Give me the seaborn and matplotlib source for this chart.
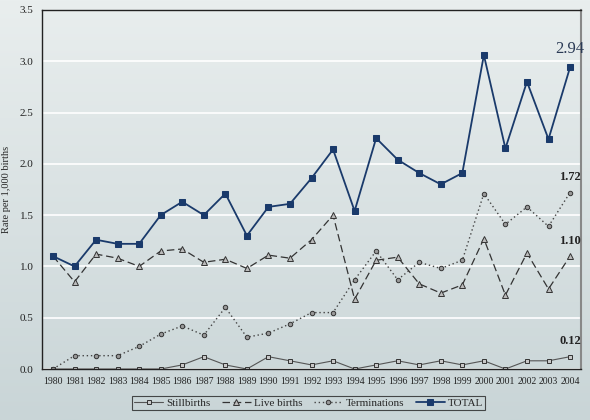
import numpy as np
import pandas as pd
import matplotlib
matplotlib.use("Agg")
import matplotlib.pyplot as plt
import seaborn as sns

years = list(range(1980, 2005))
stillbirths = [0, 0, 0, 0, 0, 0, 0.04, 0.12, 0.04, 0, 0.12, 0.08, 0.04, 0.08, 0,
               0.04, 0.08, 0.04, 0.08, 0.04, 0.08, 0, 0.08, 0.08, 0.12]
live_births = [1.10, 0.85, 1.12, 1.08, 1.00, 1.15, 1.17, 1.04, 1.07, 0.98, 1.11, 1.08, 1.26,
               1.50, 0.68, 1.06, 1.09, 0.83, 0.74, 0.82, 1.27, 0.72, 1.13, 0.78, 1.10]
terminations = [0, 0.13, 0.13, 0.13, 0.22, 0.34, 0.42, 0.33, 0.60, 0.31, 0.35, 0.44, 0.55,
                0.55, 0.87, 1.15, 0.87, 1.04, 0.98, 1.06, 1.71, 1.41, 1.58, 1.39, 1.72]
total = [1.10, 1.00, 1.26, 1.22, 1.22, 1.50, 1.63, 1.50, 1.71, 1.30, 1.58, 1.61, 1.86,
         2.14, 1.54, 2.25, 2.04, 1.91, 1.80, 1.91, 3.06, 2.15, 2.80, 2.24, 2.94]

df = pd.DataFrame({"Year": years, "Stillbirths": stillbirths, "Live births": live_births,
                   "Terminations": terminations, "TOTAL": total})

sns.set_theme(style="white")
plt.rcParams["font.family"] = ["Liberation Serif", "DejaVu Serif"]

fig = plt.figure(figsize=(5.9, 4.2), dpi=100)

# gradient background
bg = fig.add_axes([0, 0, 1, 1], zorder=-10)
grad = np.linspace(0, 1, 256).reshape(-1, 1)
cmap = matplotlib.colors.LinearSegmentedColormap.from_list("bg", ["#e9eeee", "#c9d5d7"])
bg.imshow(grad, aspect="auto", cmap=cmap, extent=[0, 1, 0, 1], origin="upper")
bg.axis("off")

ax = fig.add_axes([0.0712, 0.1214, 0.9136, 0.855])
ax.set_facecolor("none")

navy = "#1a3a6b"
sns.lineplot(data=df, x="Year", y="Stillbirths", ax=ax, color="#555555", lw=0.8,
             marker="s", markersize=3.5, markerfacecolor="#c8c8c8", markeredgecolor="#333333",
             markeredgewidth=0.7, label="Stillbirths")
sns.lineplot(data=df, x="Year", y="Live births", ax=ax, color="#333333", lw=0.9,
             linestyle=(0, (6, 3)), marker="^", markersize=4, markerfacecolor="#bbbbbb",
             markeredgecolor="#333333", markeredgewidth=0.7, label="Live births")
sns.lineplot(data=df, x="Year", y="Terminations", ax=ax, color="#444444", lw=1.0,
             linestyle=(0, (1, 2)), marker="o", markersize=3.2, markerfacecolor="#999999",
             markeredgecolor="#333333", markeredgewidth=0.7, label="Terminations")
sns.lineplot(data=df, x="Year", y="TOTAL", ax=ax, color=navy, lw=1.3,
             marker="s", markersize=4, markerfacecolor=navy, markeredgecolor=navy,
             label="TOTAL")

ax.set_xlim(1979.49, 2004.51)
ax.set_ylim(0, 3.5)
ax.set_yticks(np.arange(0, 3.51, 0.5))
ax.set_yticklabels([f"{v:.1f}" for v in np.arange(0, 3.51, 0.5)], fontsize=8)
ax.set_xticks(years)
ax.set_xticklabels([str(y) for y in years], fontsize=7)
ax.tick_params(axis="both", direction="out", length=3, width=0.8, colors="#222222", pad=3)
ax.yaxis.grid(True, color="white", lw=1.2)
ax.set_axisbelow(True)
ax.set_xlabel("")
ax.set_ylabel("Rate per 1,000 births", fontsize=7.5, labelpad=6)

for side in ["left", "bottom", "top"]:
    ax.spines[side].set_color("#222222")
    ax.spines[side].set_linewidth(1.0)
ax.spines["right"].set_color("#888888")
ax.spines["right"].set_linewidth(1.5)

ax.text(2004, total[-1] + 0.1, f"{total[-1]:.2f}", ha="center", va="bottom", fontsize=12, color="#2a3a55")
ax.text(2004, terminations[-1] + 0.09, f"{terminations[-1]:.2f}", ha="center", va="bottom", fontsize=9, fontweight="bold", color="#222222")
ax.text(2004, live_births[-1] + 0.09, f"{live_births[-1]:.2f}", ha="center", va="bottom", fontsize=9, fontweight="bold", color="#222222")
ax.text(2004, stillbirths[-1] + 0.09, f"{stillbirths[-1]:.2f}", ha="center", va="bottom", fontsize=9, fontweight="bold", color="#222222")

leg = ax.legend(loc="upper center", bbox_to_anchor=(0.495, -0.075), ncol=4, frameon=True,
                fontsize=8, handlelength=2.6, columnspacing=1.0, handletextpad=0.3,
                borderpad=0.2, borderaxespad=0, fancybox=False, edgecolor="#222222")
leg.get_frame().set_facecolor("none")
leg.get_frame().set_linewidth(0.8)

fig.savefig("out.png", dpi=100)
